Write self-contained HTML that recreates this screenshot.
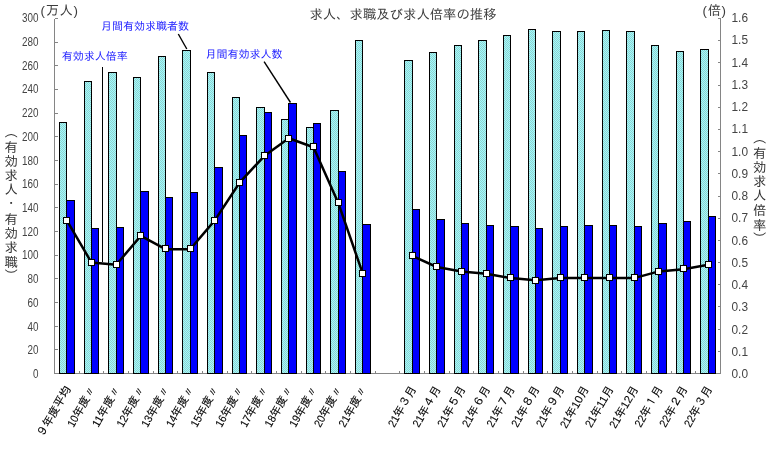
<!DOCTYPE html>
<html lang="ja"><head><meta charset="utf-8"><title>求人、求職及び求人倍率の推移</title>
<style>
html,body{margin:0;padding:0;background:#fff;}
body{width:771px;height:457px;overflow:hidden;position:relative;font-family:"Liberation Sans", "IPAGothic", sans-serif;}
svg{position:absolute;left:0;top:0;display:block;}
svg text{font-family:"Liberation Sans", "IPAGothic", sans-serif;}
.ax{font-size:12px;fill:#444;}
.xl{font-size:11.3px;fill:#000;stroke:#000;stroke-width:0.1px;}
.ttl{font-size:13.33px;fill:#3d3d3d;}
.unit{font-size:13.33px;fill:#3c3c3c;letter-spacing:0.6px;}
.ann{font-size:11px;fill:#1a1aff;}
.vl{font-size:13.33px;fill:#333;}
</style></head><body>
<svg width="771" height="457" viewBox="0 0 771 457">
<defs><pattern id="chk" width="2" height="2" patternUnits="userSpaceOnUse"><rect width="2" height="2" fill="#99ffff"/><rect x="0" y="0" width="1" height="1" fill="#99cccc"/><rect x="1" y="1" width="1" height="1" fill="#99cccc"/></pattern></defs>
<rect width="771" height="457" fill="#ffffff"/>
<g stroke="#858585" stroke-width="1" shape-rendering="crispEdges" fill="none">
<line x1="54.5" y1="18.5" x2="54.5" y2="373.5"/>
<line x1="720.5" y1="18.5" x2="720.5" y2="373.5"/>
<line x1="54.5" y1="373.5" x2="720.5" y2="373.5"/>
<line x1="54.5" y1="373.5" x2="57.5" y2="373.5"/>
<line x1="54.5" y1="349.5" x2="57.5" y2="349.5"/>
<line x1="54.5" y1="326.5" x2="57.5" y2="326.5"/>
<line x1="54.5" y1="302.5" x2="57.5" y2="302.5"/>
<line x1="54.5" y1="278.5" x2="57.5" y2="278.5"/>
<line x1="54.5" y1="255.5" x2="57.5" y2="255.5"/>
<line x1="54.5" y1="231.5" x2="57.5" y2="231.5"/>
<line x1="54.5" y1="207.5" x2="57.5" y2="207.5"/>
<line x1="54.5" y1="184.5" x2="57.5" y2="184.5"/>
<line x1="54.5" y1="160.5" x2="57.5" y2="160.5"/>
<line x1="54.5" y1="136.5" x2="57.5" y2="136.5"/>
<line x1="54.5" y1="113.5" x2="57.5" y2="113.5"/>
<line x1="54.5" y1="89.5" x2="57.5" y2="89.5"/>
<line x1="54.5" y1="65.5" x2="57.5" y2="65.5"/>
<line x1="54.5" y1="42.5" x2="57.5" y2="42.5"/>
<line x1="54.5" y1="18.5" x2="57.5" y2="18.5"/>
<line x1="717.5" y1="373.5" x2="720.5" y2="373.5"/>
<line x1="717.5" y1="351.5" x2="720.5" y2="351.5"/>
<line x1="717.5" y1="329.5" x2="720.5" y2="329.5"/>
<line x1="717.5" y1="306.5" x2="720.5" y2="306.5"/>
<line x1="717.5" y1="284.5" x2="720.5" y2="284.5"/>
<line x1="717.5" y1="262.5" x2="720.5" y2="262.5"/>
<line x1="717.5" y1="240.5" x2="720.5" y2="240.5"/>
<line x1="717.5" y1="218.5" x2="720.5" y2="218.5"/>
<line x1="717.5" y1="196.5" x2="720.5" y2="196.5"/>
<line x1="717.5" y1="173.5" x2="720.5" y2="173.5"/>
<line x1="717.5" y1="151.5" x2="720.5" y2="151.5"/>
<line x1="717.5" y1="129.5" x2="720.5" y2="129.5"/>
<line x1="717.5" y1="107.5" x2="720.5" y2="107.5"/>
<line x1="717.5" y1="85.5" x2="720.5" y2="85.5"/>
<line x1="717.5" y1="62.5" x2="720.5" y2="62.5"/>
<line x1="717.5" y1="40.5" x2="720.5" y2="40.5"/>
<line x1="717.5" y1="18.5" x2="720.5" y2="18.5"/>
<line x1="79.5" y1="370.5" x2="79.5" y2="373.5"/>
<line x1="103.5" y1="370.5" x2="103.5" y2="373.5"/>
<line x1="128.5" y1="370.5" x2="128.5" y2="373.5"/>
<line x1="153.5" y1="370.5" x2="153.5" y2="373.5"/>
<line x1="177.5" y1="370.5" x2="177.5" y2="373.5"/>
<line x1="202.5" y1="370.5" x2="202.5" y2="373.5"/>
<line x1="227.5" y1="370.5" x2="227.5" y2="373.5"/>
<line x1="251.5" y1="370.5" x2="251.5" y2="373.5"/>
<line x1="276.5" y1="370.5" x2="276.5" y2="373.5"/>
<line x1="301.5" y1="370.5" x2="301.5" y2="373.5"/>
<line x1="325.5" y1="370.5" x2="325.5" y2="373.5"/>
<line x1="350.5" y1="370.5" x2="350.5" y2="373.5"/>
<line x1="375.5" y1="370.5" x2="375.5" y2="373.5"/>
<line x1="399.5" y1="370.5" x2="399.5" y2="373.5"/>
<line x1="424.5" y1="370.5" x2="424.5" y2="373.5"/>
<line x1="449.5" y1="370.5" x2="449.5" y2="373.5"/>
<line x1="473.5" y1="370.5" x2="473.5" y2="373.5"/>
<line x1="498.5" y1="370.5" x2="498.5" y2="373.5"/>
<line x1="523.5" y1="370.5" x2="523.5" y2="373.5"/>
<line x1="547.5" y1="370.5" x2="547.5" y2="373.5"/>
<line x1="572.5" y1="370.5" x2="572.5" y2="373.5"/>
<line x1="597.5" y1="370.5" x2="597.5" y2="373.5"/>
<line x1="621.5" y1="370.5" x2="621.5" y2="373.5"/>
<line x1="646.5" y1="370.5" x2="646.5" y2="373.5"/>
<line x1="671.5" y1="370.5" x2="671.5" y2="373.5"/>
<line x1="695.5" y1="370.5" x2="695.5" y2="373.5"/>
</g>
<g stroke="#000" stroke-width="1" shape-rendering="crispEdges">
<rect x="59.5" y="122.5" width="7.0" height="251.0" fill="url(#chk)"/>
<rect x="66.5" y="200.5" width="8.0" height="173.0" fill="#0000ff"/>
<rect x="84.5" y="81.5" width="7.0" height="292.0" fill="url(#chk)"/>
<rect x="91.5" y="228.5" width="7.0" height="145.0" fill="#0000ff"/>
<rect x="108.5" y="72.5" width="8.0" height="301.0" fill="url(#chk)"/>
<rect x="116.5" y="227.5" width="7.0" height="146.0" fill="#0000ff"/>
<rect x="133.5" y="77.5" width="7.0" height="296.0" fill="url(#chk)"/>
<rect x="140.5" y="191.5" width="8.0" height="182.0" fill="#0000ff"/>
<rect x="158.5" y="56.5" width="7.0" height="317.0" fill="url(#chk)"/>
<rect x="165.5" y="197.5" width="7.0" height="176.0" fill="#0000ff"/>
<rect x="182.5" y="50.5" width="8.0" height="323.0" fill="url(#chk)"/>
<rect x="190.5" y="192.5" width="7.0" height="181.0" fill="#0000ff"/>
<rect x="207.5" y="72.5" width="7.0" height="301.0" fill="url(#chk)"/>
<rect x="214.5" y="167.5" width="8.0" height="206.0" fill="#0000ff"/>
<rect x="232.5" y="97.5" width="7.0" height="276.0" fill="url(#chk)"/>
<rect x="239.5" y="135.5" width="7.0" height="238.0" fill="#0000ff"/>
<rect x="256.5" y="107.5" width="8.0" height="266.0" fill="url(#chk)"/>
<rect x="264.5" y="112.5" width="7.0" height="261.0" fill="#0000ff"/>
<rect x="281.5" y="119.5" width="7.0" height="254.0" fill="url(#chk)"/>
<rect x="288.5" y="103.5" width="8.0" height="270.0" fill="#0000ff"/>
<rect x="306.5" y="127.5" width="7.0" height="246.0" fill="url(#chk)"/>
<rect x="313.5" y="123.5" width="7.0" height="250.0" fill="#0000ff"/>
<rect x="330.5" y="110.5" width="8.0" height="263.0" fill="url(#chk)"/>
<rect x="338.5" y="171.5" width="7.0" height="202.0" fill="#0000ff"/>
<rect x="355.5" y="40.5" width="7.0" height="333.0" fill="url(#chk)"/>
<rect x="362.5" y="224.5" width="8.0" height="149.0" fill="#0000ff"/>
<rect x="404.5" y="60.5" width="8.0" height="313.0" fill="url(#chk)"/>
<rect x="412.5" y="209.5" width="7.0" height="164.0" fill="#0000ff"/>
<rect x="429.5" y="52.5" width="7.0" height="321.0" fill="url(#chk)"/>
<rect x="436.5" y="219.5" width="8.0" height="154.0" fill="#0000ff"/>
<rect x="454.5" y="45.5" width="7.0" height="328.0" fill="url(#chk)"/>
<rect x="461.5" y="223.5" width="7.0" height="150.0" fill="#0000ff"/>
<rect x="478.5" y="40.5" width="8.0" height="333.0" fill="url(#chk)"/>
<rect x="486.5" y="225.5" width="7.0" height="148.0" fill="#0000ff"/>
<rect x="503.5" y="35.5" width="7.0" height="338.0" fill="url(#chk)"/>
<rect x="510.5" y="226.5" width="8.0" height="147.0" fill="#0000ff"/>
<rect x="528.5" y="29.5" width="7.0" height="344.0" fill="url(#chk)"/>
<rect x="535.5" y="228.5" width="7.0" height="145.0" fill="#0000ff"/>
<rect x="552.5" y="31.5" width="8.0" height="342.0" fill="url(#chk)"/>
<rect x="560.5" y="226.5" width="7.0" height="147.0" fill="#0000ff"/>
<rect x="577.5" y="31.5" width="7.0" height="342.0" fill="url(#chk)"/>
<rect x="584.5" y="225.5" width="8.0" height="148.0" fill="#0000ff"/>
<rect x="602.5" y="30.5" width="7.0" height="343.0" fill="url(#chk)"/>
<rect x="609.5" y="225.5" width="7.0" height="148.0" fill="#0000ff"/>
<rect x="626.5" y="31.5" width="8.0" height="342.0" fill="url(#chk)"/>
<rect x="634.5" y="226.5" width="7.0" height="147.0" fill="#0000ff"/>
<rect x="651.5" y="45.5" width="7.0" height="328.0" fill="url(#chk)"/>
<rect x="658.5" y="223.5" width="8.0" height="150.0" fill="#0000ff"/>
<rect x="676.5" y="51.5" width="7.0" height="322.0" fill="url(#chk)"/>
<rect x="683.5" y="221.5" width="7.0" height="152.0" fill="#0000ff"/>
<rect x="700.5" y="49.5" width="8.0" height="324.0" fill="url(#chk)"/>
<rect x="708.5" y="216.5" width="7.0" height="157.0" fill="#0000ff"/>
</g>
<g stroke="#000" stroke-width="1" fill="none">
<line x1="102.5" y1="67" x2="102.5" y2="262" shape-rendering="crispEdges"/>
<line x1="178.3" y1="34" x2="186.8" y2="49" stroke-width="1.4"/>
<line x1="264.1" y1="61.6" x2="290.5" y2="102.5" stroke-width="1.4"/>
</g>
<g fill="none" stroke="#000" stroke-width="2.5" stroke-linejoin="round">
<polyline points="66.8,220.4 91.5,262.6 116.2,264.8 140.8,235.9 165.5,249.2 190.2,249.2 214.8,220.4 239.5,182.7 264.2,156.1 288.8,138.3 313.5,147.2 338.2,202.7 362.8,273.7"/>
<polyline points="412.2,255.9 436.8,267.0 461.5,271.4 486.2,273.7 510.8,278.1 535.5,280.3 560.2,278.1 584.8,278.1 609.5,278.1 634.2,278.1 658.8,271.4 683.5,269.2 708.2,264.8"/>
</g>
<g fill="#fff" stroke="#000" stroke-width="1" shape-rendering="crispEdges">
<rect x="63.5" y="217.5" width="6" height="6"/>
<rect x="88.5" y="259.5" width="6" height="6"/>
<rect x="113.5" y="261.5" width="6" height="6"/>
<rect x="137.5" y="232.5" width="6" height="6"/>
<rect x="162.5" y="245.5" width="6" height="6"/>
<rect x="187.5" y="245.5" width="6" height="6"/>
<rect x="211.5" y="217.5" width="6" height="6"/>
<rect x="236.5" y="179.5" width="6" height="6"/>
<rect x="261.5" y="152.5" width="6" height="6"/>
<rect x="285.5" y="135.5" width="6" height="6"/>
<rect x="310.5" y="143.5" width="6" height="6"/>
<rect x="335.5" y="199.5" width="6" height="6"/>
<rect x="359.5" y="270.5" width="6" height="6"/>
<rect x="409.5" y="252.5" width="6" height="6"/>
<rect x="433.5" y="263.5" width="6" height="6"/>
<rect x="458.5" y="268.5" width="6" height="6"/>
<rect x="483.5" y="270.5" width="6" height="6"/>
<rect x="507.5" y="274.5" width="6" height="6"/>
<rect x="532.5" y="277.5" width="6" height="6"/>
<rect x="557.5" y="274.5" width="6" height="6"/>
<rect x="581.5" y="274.5" width="6" height="6"/>
<rect x="606.5" y="274.5" width="6" height="6"/>
<rect x="631.5" y="274.5" width="6" height="6"/>
<rect x="655.5" y="268.5" width="6" height="6"/>
<rect x="680.5" y="265.5" width="6" height="6"/>
<rect x="705.5" y="261.5" width="6" height="6"/>
</g>
<text class="ax" x="38.5" y="378.0" text-anchor="end" textLength="5.5" lengthAdjust="spacingAndGlyphs">0</text>
<text class="ax" x="38.5" y="354.3" text-anchor="end" textLength="11.0" lengthAdjust="spacingAndGlyphs">20</text>
<text class="ax" x="38.5" y="330.5" text-anchor="end" textLength="11.0" lengthAdjust="spacingAndGlyphs">40</text>
<text class="ax" x="38.5" y="306.8" text-anchor="end" textLength="11.0" lengthAdjust="spacingAndGlyphs">60</text>
<text class="ax" x="38.5" y="283.1" text-anchor="end" textLength="11.0" lengthAdjust="spacingAndGlyphs">80</text>
<text class="ax" x="38.5" y="259.4" text-anchor="end" textLength="16.5" lengthAdjust="spacingAndGlyphs">100</text>
<text class="ax" x="38.5" y="235.6" text-anchor="end" textLength="16.5" lengthAdjust="spacingAndGlyphs">120</text>
<text class="ax" x="38.5" y="211.9" text-anchor="end" textLength="16.5" lengthAdjust="spacingAndGlyphs">140</text>
<text class="ax" x="38.5" y="188.2" text-anchor="end" textLength="16.5" lengthAdjust="spacingAndGlyphs">160</text>
<text class="ax" x="38.5" y="164.5" text-anchor="end" textLength="16.5" lengthAdjust="spacingAndGlyphs">180</text>
<text class="ax" x="38.5" y="140.7" text-anchor="end" textLength="16.5" lengthAdjust="spacingAndGlyphs">200</text>
<text class="ax" x="38.5" y="117.0" text-anchor="end" textLength="16.5" lengthAdjust="spacingAndGlyphs">220</text>
<text class="ax" x="38.5" y="93.3" text-anchor="end" textLength="16.5" lengthAdjust="spacingAndGlyphs">240</text>
<text class="ax" x="38.5" y="69.6" text-anchor="end" textLength="16.5" lengthAdjust="spacingAndGlyphs">260</text>
<text class="ax" x="38.5" y="45.8" text-anchor="end" textLength="16.5" lengthAdjust="spacingAndGlyphs">280</text>
<text class="ax" x="38.5" y="22.1" text-anchor="end" textLength="16.5" lengthAdjust="spacingAndGlyphs">300</text>
<text class="ax" x="731.5" y="378.0" textLength="16.5" lengthAdjust="spacingAndGlyphs">0.0</text>
<text class="ax" x="731.5" y="355.8" textLength="16.5" lengthAdjust="spacingAndGlyphs">0.1</text>
<text class="ax" x="731.5" y="333.5" textLength="16.5" lengthAdjust="spacingAndGlyphs">0.2</text>
<text class="ax" x="731.5" y="311.3" textLength="16.5" lengthAdjust="spacingAndGlyphs">0.3</text>
<text class="ax" x="731.5" y="289.0" textLength="16.5" lengthAdjust="spacingAndGlyphs">0.4</text>
<text class="ax" x="731.5" y="266.8" textLength="16.5" lengthAdjust="spacingAndGlyphs">0.5</text>
<text class="ax" x="731.5" y="244.5" textLength="16.5" lengthAdjust="spacingAndGlyphs">0.6</text>
<text class="ax" x="731.5" y="222.3" textLength="16.5" lengthAdjust="spacingAndGlyphs">0.7</text>
<text class="ax" x="731.5" y="200.0" textLength="16.5" lengthAdjust="spacingAndGlyphs">0.8</text>
<text class="ax" x="731.5" y="177.8" textLength="16.5" lengthAdjust="spacingAndGlyphs">0.9</text>
<text class="ax" x="731.5" y="155.6" textLength="16.5" lengthAdjust="spacingAndGlyphs">1.0</text>
<text class="ax" x="731.5" y="133.3" textLength="16.5" lengthAdjust="spacingAndGlyphs">1.1</text>
<text class="ax" x="731.5" y="111.1" textLength="16.5" lengthAdjust="spacingAndGlyphs">1.2</text>
<text class="ax" x="731.5" y="88.8" textLength="16.5" lengthAdjust="spacingAndGlyphs">1.3</text>
<text class="ax" x="731.5" y="66.6" textLength="16.5" lengthAdjust="spacingAndGlyphs">1.4</text>
<text class="ax" x="731.5" y="44.3" textLength="16.5" lengthAdjust="spacingAndGlyphs">1.5</text>
<text class="ax" x="731.5" y="22.1" textLength="16.5" lengthAdjust="spacingAndGlyphs">1.6</text>
<text class="xl" transform="translate(71.4,388.8) rotate(-60)" text-anchor="end">９年度平均</text>
<text class="xl" transform="translate(96.1,388.8) rotate(-60)" text-anchor="end"><tspan textLength="11.3" lengthAdjust="spacingAndGlyphs">10</tspan>年度〃</text>
<text class="xl" transform="translate(120.8,388.8) rotate(-60)" text-anchor="end"><tspan textLength="11.3" lengthAdjust="spacingAndGlyphs">11</tspan>年度〃</text>
<text class="xl" transform="translate(145.4,388.8) rotate(-60)" text-anchor="end"><tspan textLength="11.3" lengthAdjust="spacingAndGlyphs">12</tspan>年度〃</text>
<text class="xl" transform="translate(170.1,388.8) rotate(-60)" text-anchor="end"><tspan textLength="11.3" lengthAdjust="spacingAndGlyphs">13</tspan>年度〃</text>
<text class="xl" transform="translate(194.8,388.8) rotate(-60)" text-anchor="end"><tspan textLength="11.3" lengthAdjust="spacingAndGlyphs">14</tspan>年度〃</text>
<text class="xl" transform="translate(219.4,388.8) rotate(-60)" text-anchor="end"><tspan textLength="11.3" lengthAdjust="spacingAndGlyphs">15</tspan>年度〃</text>
<text class="xl" transform="translate(244.1,388.8) rotate(-60)" text-anchor="end"><tspan textLength="11.3" lengthAdjust="spacingAndGlyphs">16</tspan>年度〃</text>
<text class="xl" transform="translate(268.8,388.8) rotate(-60)" text-anchor="end"><tspan textLength="11.3" lengthAdjust="spacingAndGlyphs">17</tspan>年度〃</text>
<text class="xl" transform="translate(293.4,388.8) rotate(-60)" text-anchor="end"><tspan textLength="11.3" lengthAdjust="spacingAndGlyphs">18</tspan>年度〃</text>
<text class="xl" transform="translate(318.1,388.8) rotate(-60)" text-anchor="end"><tspan textLength="11.3" lengthAdjust="spacingAndGlyphs">19</tspan>年度〃</text>
<text class="xl" transform="translate(342.8,388.8) rotate(-60)" text-anchor="end"><tspan textLength="11.3" lengthAdjust="spacingAndGlyphs">20</tspan>年度〃</text>
<text class="xl" transform="translate(367.4,388.8) rotate(-60)" text-anchor="end"><tspan textLength="11.3" lengthAdjust="spacingAndGlyphs">21</tspan>年度〃</text>
<text class="xl" transform="translate(416.8,388.8) rotate(-60)" text-anchor="end"><tspan textLength="11.3" lengthAdjust="spacingAndGlyphs">21</tspan>年３月</text>
<text class="xl" transform="translate(441.4,388.8) rotate(-60)" text-anchor="end"><tspan textLength="11.3" lengthAdjust="spacingAndGlyphs">21</tspan>年４月</text>
<text class="xl" transform="translate(466.1,388.8) rotate(-60)" text-anchor="end"><tspan textLength="11.3" lengthAdjust="spacingAndGlyphs">21</tspan>年５月</text>
<text class="xl" transform="translate(490.8,388.8) rotate(-60)" text-anchor="end"><tspan textLength="11.3" lengthAdjust="spacingAndGlyphs">21</tspan>年６月</text>
<text class="xl" transform="translate(515.4,388.8) rotate(-60)" text-anchor="end"><tspan textLength="11.3" lengthAdjust="spacingAndGlyphs">21</tspan>年７月</text>
<text class="xl" transform="translate(540.1,388.8) rotate(-60)" text-anchor="end"><tspan textLength="11.3" lengthAdjust="spacingAndGlyphs">21</tspan>年８月</text>
<text class="xl" transform="translate(564.8,388.8) rotate(-60)" text-anchor="end"><tspan textLength="11.3" lengthAdjust="spacingAndGlyphs">21</tspan>年９月</text>
<text class="xl" transform="translate(589.4,388.8) rotate(-60)" text-anchor="end"><tspan textLength="11.3" lengthAdjust="spacingAndGlyphs">21</tspan>年10月</text>
<text class="xl" transform="translate(614.1,388.8) rotate(-60)" text-anchor="end"><tspan textLength="11.3" lengthAdjust="spacingAndGlyphs">21</tspan>年11月</text>
<text class="xl" transform="translate(638.8,388.8) rotate(-60)" text-anchor="end"><tspan textLength="11.3" lengthAdjust="spacingAndGlyphs">21</tspan>年12月</text>
<text class="xl" transform="translate(663.4,388.8) rotate(-60)" text-anchor="end"><tspan textLength="11.3" lengthAdjust="spacingAndGlyphs">22</tspan>年１月</text>
<text class="xl" transform="translate(688.1,388.8) rotate(-60)" text-anchor="end"><tspan textLength="11.3" lengthAdjust="spacingAndGlyphs">22</tspan>年２月</text>
<text class="xl" transform="translate(712.8,388.8) rotate(-60)" text-anchor="end"><tspan textLength="11.3" lengthAdjust="spacingAndGlyphs">22</tspan>年３月</text>
<text class="ttl" x="403" y="19.3" text-anchor="middle" textLength="187" lengthAdjust="spacing">求人、求職及び求人倍率の推移</text>
<text class="unit" x="40.6" y="15">(万人)</text>
<text class="unit" x="702.6" y="15">(倍)</text>
<text class="ann" x="101" y="29.5">月間有効求職者数</text>
<text class="ann" x="61.8" y="60.1">有効求人倍率</text>
<text class="ann" x="205.5" y="58">月間有効求人数</text>
</svg>
<div style="position:absolute;left:3.9px;top:125.4px;width:13.33px;writing-mode:vertical-rl;font-size:13.33px;line-height:13.33px;letter-spacing:1px;color:#333;white-space:nowrap;">（有効求人・有効求職）</div>
<div style="position:absolute;left:752.3px;top:131.3px;width:13.33px;writing-mode:vertical-rl;font-size:13.33px;line-height:13.33px;letter-spacing:1px;color:#333;white-space:nowrap;">（有効求人倍率）</div>
</body></html>
